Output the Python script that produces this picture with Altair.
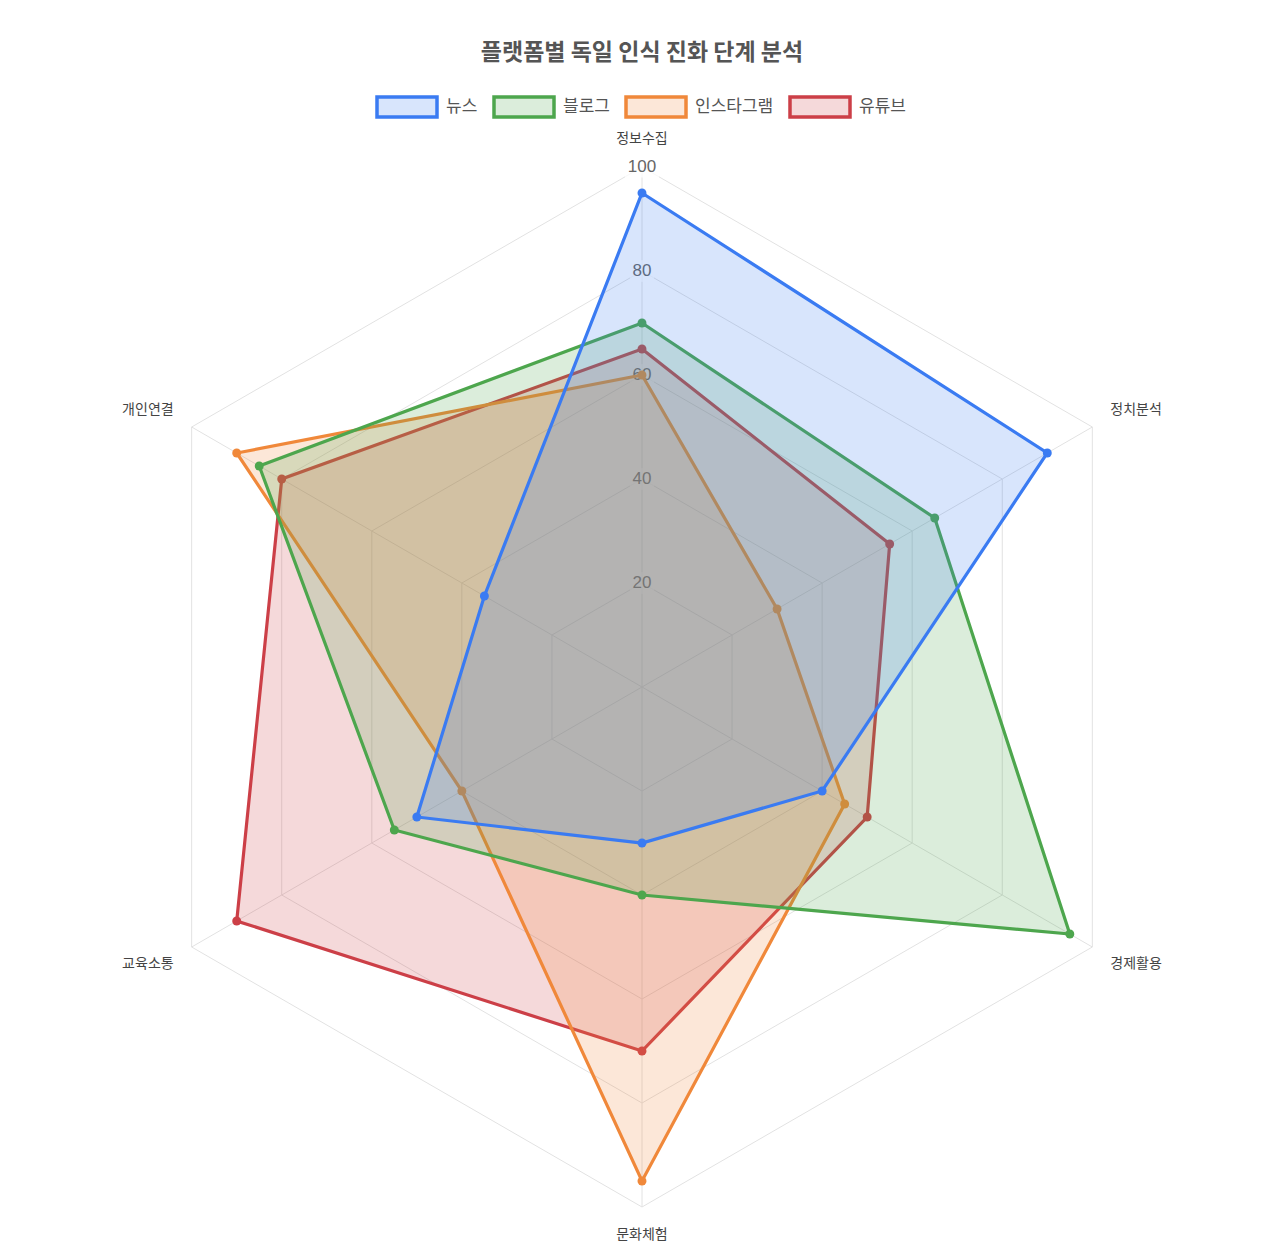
import altair as alt
import pandas as pd

# ---- data ----
categories = ["정보수집", "정치분석", "경제활용", "문화체험", "교육소통", "개인연결"]
platforms = ["뉴스", "블로그", "인스타그램", "유튜브"]
news = [95, 90, 40, 30, 50, 35]
blog = [70, 65, 95, 40, 55, 85]
insta = [60, 30, 45, 95, 40, 90]
youtube = [65, 55, 50, 70, 90, 80]
tick_levels = [20, 40, 60, 80, 100]

# ---- styles ----
line_colors = ["#3a7bf2", "#4da64d", "#f0883a", "#cc3f47"]
fill_colors = ["rgba(58,123,242,0.2)", "rgba(77,166,77,0.2)",
               "rgba(240,136,58,0.2)", "rgba(204,63,71,0.2)"]
FONT = "Noto Sans CJK KR"

series = [news, blog, insta, youtube]
rows = []
for p, vals in zip(platforms, series):
    for i, (c, v) in enumerate(zip(categories, vals)):
        rows.append({"platform": p, "category": c, "idx": i, "value": v})
df = pd.DataFrame(rows)

grid_rows = [{"level": lv, "idx": i} for lv in tick_levels for i in range(len(categories))]
grid_df = pd.DataFrame(grid_rows)
spoke_df = pd.DataFrame({"idx": list(range(len(categories))), "r": [max(tick_levels)] * len(categories)})
tick_df = pd.DataFrame({"level": tick_levels})
cat_df = pd.DataFrame({"category": categories, "idx": list(range(len(categories)))})

xs = alt.Scale(domain=[-100, 100], nice=False, zero=False)
ys = alt.Scale(domain=[-100, 100], nice=False, zero=False)

def X(f):
    return alt.X(f, type="quantitative", scale=xs, axis=None)

def Y(f):
    return alt.Y(f, type="quantitative", scale=ys, axis=None)

grid = alt.Chart(grid_df).transform_calculate(
    gx="datum.level * sin(datum.idx * PI / 3)",
    gy="datum.level * cos(datum.idx * PI / 3)",
).mark_line(interpolate="linear-closed", stroke="#e2e2e2", strokeWidth=1).encode(
    x=X("gx"), y=Y("gy"), detail="level:N", order="idx:Q"
)

spokes = alt.Chart(spoke_df).transform_calculate(
    sx="datum.r * sin(datum.idx * PI / 3)",
    sy="datum.r * cos(datum.idx * PI / 3)",
    ox="0", oy="0",
).mark_rule(stroke="#e2e2e2", strokeWidth=1).encode(
    x=X("ox"), y=Y("oy"), x2="sx:Q", y2="sy:Q"
)

tick_base = alt.Chart(tick_df).transform_calculate(tx="0", ty="datum.level")
backdrop2 = tick_base.transform_filter(alt.datum.level < 100).mark_point(
    shape="M-1,-0.9H1V0.9H-1Z", size=576, filled=True, fill="white", fillOpacity=0.75, strokeWidth=0
).encode(x=X("tx"), y=Y("ty"))
backdrop3 = tick_base.transform_filter(alt.datum.level >= 100).mark_point(
    shape="M-1,-0.62H1V0.62H-1Z", size=1156, filled=True, fill="white", fillOpacity=0.75, strokeWidth=0
).encode(x=X("tx"), y=Y("ty"))
ticks = tick_base.mark_text(font="Helvetica", fontSize=17, color="#666666", baseline="middle", align="center").encode(
    x=X("tx"), y=Y("ty"), text="level:Q"
)

legend = alt.Legend(
    title=None, orient="none", direction="horizontal",
    legendX=253, legendY=-92,
    symbolType="M-1,-0.333H1V0.333H-1Z", symbolSize=3600, symbolStrokeWidth=3.5,
    labelFontSize=17, labelFont=FONT, labelColor="#555555", labelOffset=7,
    columnPadding=9, padding=0,
)

stroke_enc = alt.Stroke("platform:N", scale=alt.Scale(domain=platforms, range=line_colors), legend=legend)
fill_enc = alt.Fill("platform:N", scale=alt.Scale(domain=platforms, range=fill_colors), legend=legend)

series_layers = []
for p, col in reversed(list(zip(platforms, line_colors))):
    base = alt.Chart(df).transform_filter(alt.datum.platform == p).transform_calculate(
        px="datum.value * sin(datum.idx * PI / 3)",
        py="datum.value * cos(datum.idx * PI / 3)",
    )
    poly = base.mark_line(interpolate="linear-closed", strokeWidth=3.2).encode(
        x=X("px"), y=Y("py"), order="idx:Q", stroke=stroke_enc, fill=fill_enc
    )
    pts = base.mark_circle(size=80, opacity=1, color=col).encode(
        x=X("px"), y=Y("py")
    )
    series_layers += [poly, pts]

label_layers = []
aligns = ["center", "left", "left", "center", "right", "right"]
baselines = ["bottom", "bottom", "top", "top", "top", "bottom"]
for i in range(len(categories)):
    lab = alt.Chart(cat_df).transform_filter(alt.datum.idx == i).transform_calculate(
        lx="104 * sin(datum.idx * PI / 3)",
        ly="104 * cos(datum.idx * PI / 3)",
    ).mark_text(font=FONT, fontSize=14, color="#444444", align=aligns[i], baseline=baselines[i]).encode(
        x=X("lx"), y=Y("ly"), text="category:N"
    )
    label_layers.append(lab)

chart = alt.layer(grid, spokes, backdrop2, backdrop3, ticks, *series_layers, *label_layers).properties(
    width=1040, height=1040,
    autosize=alt.AutoSizeParams(type="none"),
    padding={"left": 114, "top": 159, "right": 110, "bottom": 40},
    title=alt.Title("플랫폼별 독일 인식 진화 단계 분석", font=FONT, fontSize=23, fontWeight="bold",
                    color="#555555", anchor="middle", offset=10),
).configure_view(stroke=None)

chart.save("out.html", embed_options={"renderer": "svg", "actions": False})
